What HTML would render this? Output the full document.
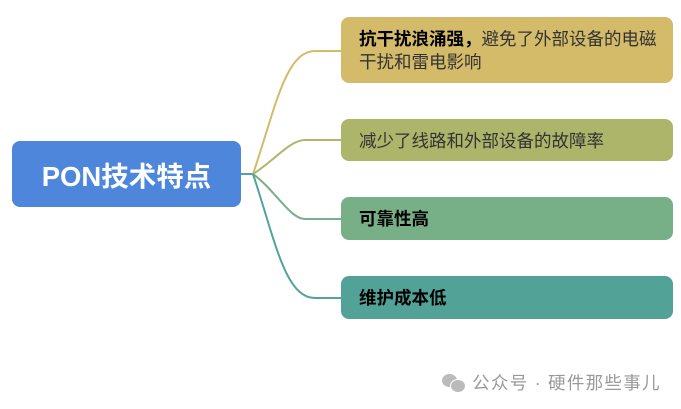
<!DOCTYPE html>
<html><head><meta charset="utf-8"><style>
body{margin:0;width:681px;height:409px;background:#fff;position:relative;overflow:hidden;font-family:"Liberation Sans","Noto Sans CJK SC",sans-serif}
.b{position:absolute;border-radius:8px;box-sizing:border-box;padding-left:18px;font-size:17.5px;color:#333;display:flex;align-items:center}
</style></head><body>
<svg width="681" height="409" style="position:absolute;left:0;top:0">
<g fill="none" stroke-width="2">
<path d="M241 174 H253" stroke="#52a39a"/>
<path d="M253 174 C275 110 285 51 315 51 H341" stroke="#d4bb6a"/>
<path d="M253 174 C275 160 290 140 305 140 H341" stroke="#b1b66e"/>
<path d="M253 174 C275 190 290 219 305 219 H341" stroke="#78b088"/>
<path d="M253 174 C275 240 285 298 315 298 H341" stroke="#52a39a"/>
</g></svg>
<div class="b" style="left:12px;top:141px;width:229px;height:66px;background:#4e86dc;color:#fff;font-size:27.5px;font-weight:bold;justify-content:center;padding:0">PON技术特点</div>
<div class="b" style="left:341px;top:17px;width:332px;height:66px;background:#d3bb69;display:block;padding-top:11px;line-height:23px;padding-right:10px"><b style="color:#000">抗干扰浪涌强，</b>避免了外部设备的电磁干扰和雷电影响</div>
<div class="b" style="left:341px;top:119px;width:332px;height:42px;background:#adb56b">减少了线路和外部设备的故障率</div>
<div class="b" style="left:341px;top:197px;width:332px;height:43px;background:#77b087;color:#000;font-weight:bold">可靠性高</div>
<div class="b" style="left:341px;top:276px;width:332px;height:43px;background:#52a298;color:#000;font-weight:bold">维护成本低</div>
<div style="position:absolute;left:442px;top:370px;font-size:17.5px;color:#999;letter-spacing:1.3px;white-space:nowrap">
<span style="display:inline-block;width:24px;height:18px;vertical-align:-3px;position:relative"><span style="position:absolute;left:0;top:0;width:15px;height:13px;border-radius:50%;background:#bbb"></span><span style="position:absolute;left:8px;top:5px;width:14px;height:12px;border-radius:50%;background:#bbb;border:1px solid #fff"></span></span> 公众号 · 硬件那些事儿</div>
</body></html>
